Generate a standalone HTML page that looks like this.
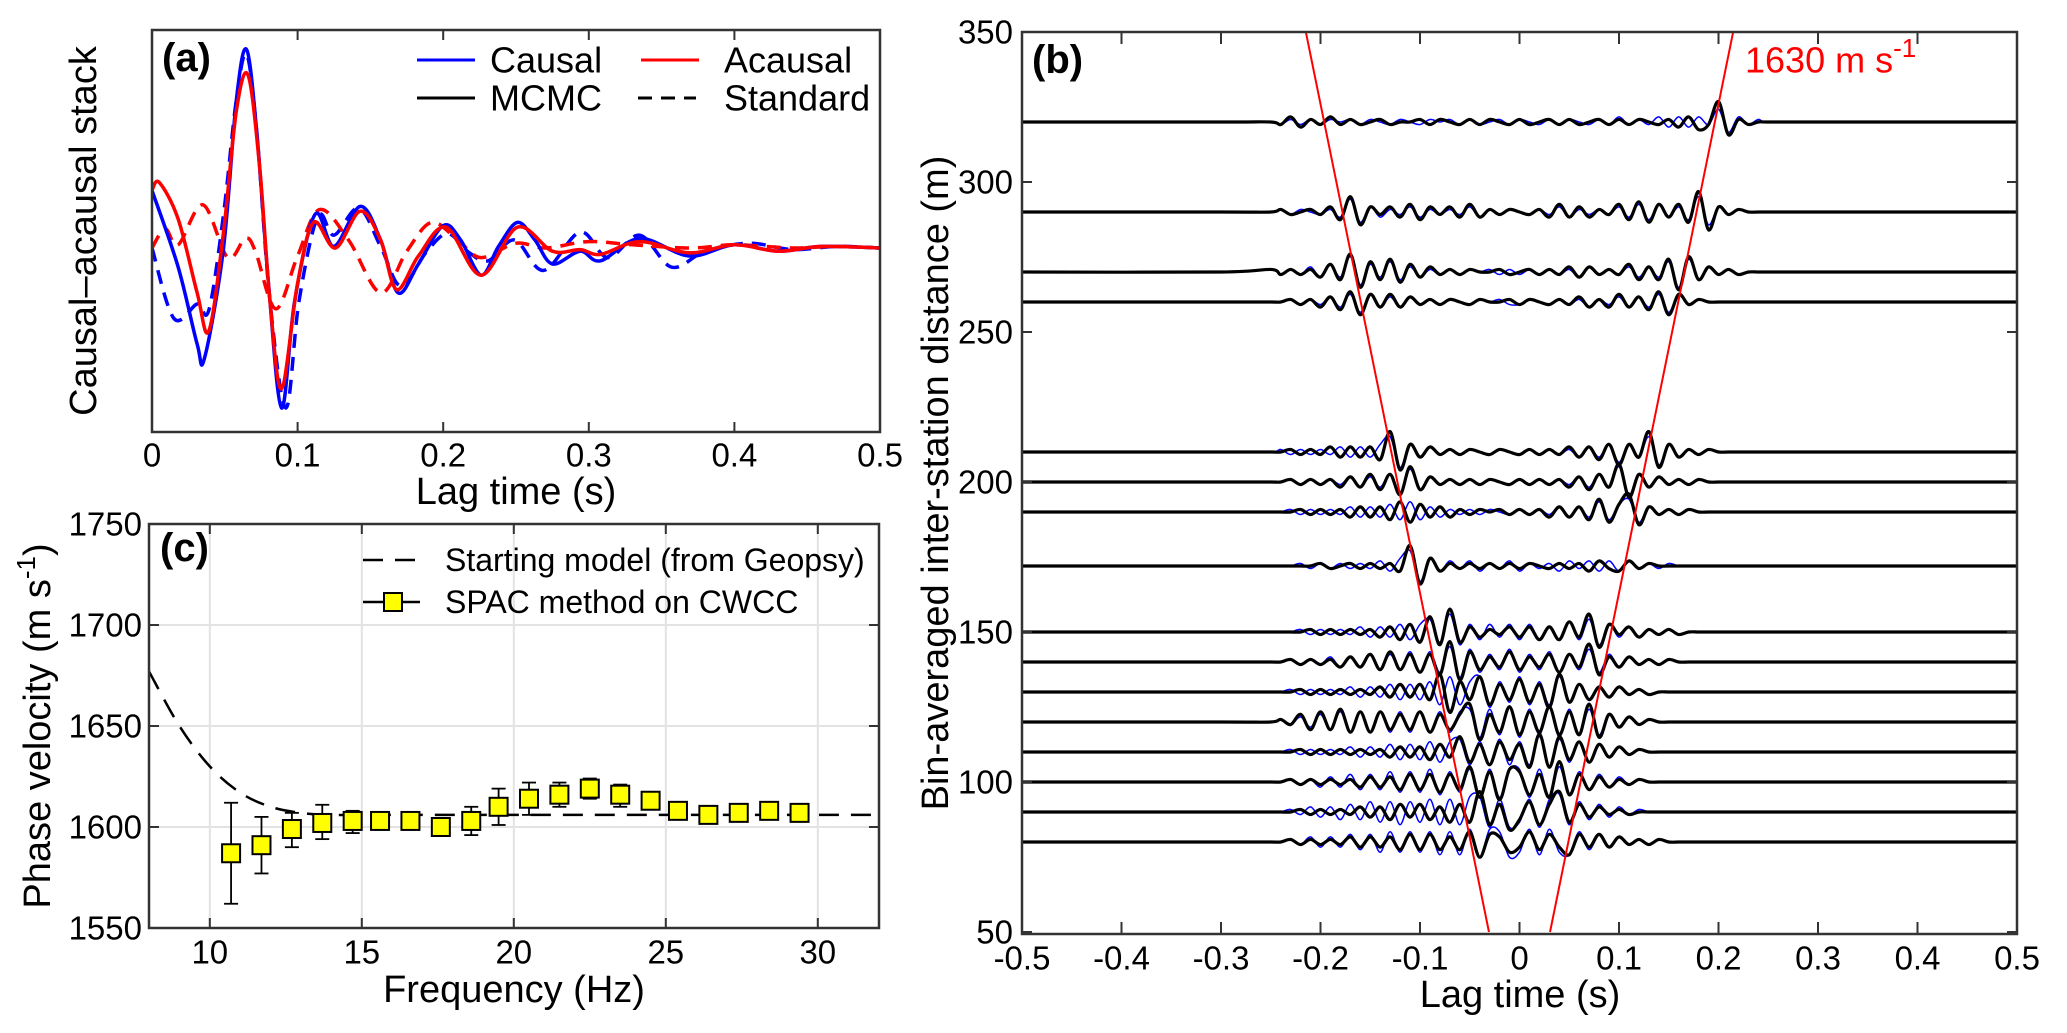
<!DOCTYPE html>
<html><head><meta charset="utf-8">
<style>
html,body{margin:0;padding:0;background:#fff;}
svg{display:block;}
text{font-family:"Liberation Sans",sans-serif;fill:#000;}
</style></head>
<body>
<svg id="fig" xmlns="http://www.w3.org/2000/svg" width="2067" height="1033" viewBox="0 0 2067 1033">
<defs>
<clipPath id="clipA"><rect x="152" y="30" width="728" height="402"/></clipPath>
<clipPath id="clipB"><rect x="1022" y="32" width="995" height="902"/></clipPath>
<clipPath id="clipC"><rect x="149" y="524" width="730" height="404"/></clipPath>
</defs>
<g id="panelA"></g>
<g id="panelB"></g>
<g id="panelC"></g>
</svg>
<script>
// ---------- Panel (a) data ----------
const aCausalT = [0,0.018,0.031,0.036,0.049,0.058,0.065,0.072,0.080,0.089,0.098,0.112,0.125,0.143,0.157,0.169,0.183,0.200,0.212,0.226,0.238,0.251,0.263,0.275,0.294,0.308,0.335,0.369,0.40,0.43,0.46,0.5];
const aCausalV = [0.36,-0.12,-0.60,-0.69,-0.01,0.93,1.24,0.72,-0.22,-1.00,-0.33,0.21,0.01,0.26,0.05,-0.28,-0.10,0.14,0.05,-0.17,0.01,0.16,0.05,-0.10,-0.02,-0.08,0.06,-0.05,0.02,-0.02,0.01,0];
const aAcausalT = [0,0.005,0.018,0.031,0.039,0.049,0.058,0.066,0.074,0.081,0.089,0.100,0.111,0.126,0.143,0.157,0.168,0.183,0.202,0.226,0.251,0.275,0.294,0.308,0.335,0.369,0.40,0.43,0.46,0.5];
const aAcausalV = [0.36,0.41,0.18,-0.28,-0.52,0.09,0.86,1.08,0.50,-0.33,-0.88,-0.22,0.16,0.00,0.23,0.05,-0.26,-0.05,0.13,-0.17,0.13,-0.02,-0.01,-0.04,0.04,-0.03,0.02,-0.02,0.01,0];
const aCausalStdT = [0,0.015,0.031,0.039,0.049,0.058,0.065,0.072,0.081,0.092,0.101,0.114,0.125,0.142,0.157,0.171,0.188,0.203,0.218,0.231,0.249,0.269,0.294,0.313,0.335,0.357,0.38,0.41,0.44,0.47,0.5];
const aCausalStdV = [0.0,-0.44,-0.35,-0.39,0.20,0.93,1.21,0.72,-0.33,-1.00,-0.33,0.20,0.08,0.25,0.01,-0.24,-0.03,0.09,-0.03,-0.08,0.05,-0.14,0.10,-0.06,0.08,-0.12,-0.02,0.03,-0.01,0.01,0];
const aAcausalStdT = [0,0.009,0.018,0.035,0.052,0.064,0.071,0.085,0.100,0.115,0.135,0.157,0.175,0.192,0.21,0.226,0.25,0.27,0.30,0.33,0.37,0.40,0.44,0.47,0.5];
const aAcausalStdV = [0.0,0.12,0.02,0.27,-0.06,0.06,-0.02,-0.38,-0.05,0.24,0.05,-0.28,-0.02,0.16,0.05,-0.06,0.03,0.00,0.04,0.02,0.00,0.02,0.00,0.01,0];
const aXTicks = [0,0.1,0.2,0.3,0.4,0.5];
const aXTickLabels = ["0","0.1","0.2","0.3","0.4","0.5"];

// ---------- Panel (c) data ----------
const cFreq = [10.7,11.7,12.7,13.7,14.7,15.6,16.6,17.6,18.6,19.5,20.5,21.5,22.5,23.5,24.5,25.4,26.4,27.4,28.4,29.4];
const cVel  = [1587,1591,1599,1602,1603,1603,1603,1600,1603,1610,1614,1616,1619,1616,1613,1608,1606,1607,1608,1607];
const cErrLo = [1562,1577,1590,1594,1597,1600,1601,1598,1596,1601,1606,1610,1614,1610,1609,1604,1603,1604,1606,1604];
const cErrHi = [1612,1605,1607,1611,1608,1606,1606,1602,1610,1619,1622,1622,1624,1621,1617,1612,1609,1609,1611,1610];
const cModelF = [8,9,10,11,12,13,14,16,20,25,32];
const cModelV = [1677,1650,1630,1617,1610,1607,1606,1606,1606,1606,1606];
const cXTicks = [10,15,20,25,30];
const cYTicks = [1550,1600,1650,1700,1750];

// ---------- Panel (b) data ----------
const bDist = [320,290,270,260,210,200,190,172,150,140,130,120,110,100,90,80];
const bVel = 1630;
const bXTicks = [-0.5,-0.4,-0.3,-0.2,-0.1,0,0.1,0.2,0.3,0.4,0.5];
const bXTickLabels = ["-0.5","-0.4","-0.3","-0.2","-0.1","0","0.1","0.2","0.3","0.4","0.5"];
const bYTicks = [50,100,150,200,250,300,350];
// traces sampled every 0.01 s from -0.25 s to 0.25 s (amplitude in metres of offset)
const bBlack = [
[0,-1,2,-2,1,-1,2,-1,1,-1,0,1,-1,0,0,1,-1,1,0,-1,1,-1,1,0,-1,1,-1,0,1,-1,1,-1,0,1,-1,1,-1,1,0,-1,1,-2,2,-3,-1,8,-5,1,-1,0,0],
[0,1,-1,0,1,-1,2,-3,6,-5,2,-1,2,-2,3,-3,2,-1,2,-2,3,-2,1,-1,1,0,-1,1,-2,3,-2,2,-2,1,-1,3,-3,4,-4,3,-2,3,-4,8,-7,2,-1,1,0,0,0],
[1,-1,1,-1,1,-2,3,-3,7,-6,4,-3,5,-4,3,-2,2,-1,1,-1,1,0,0,1,-1,0,1,-1,1,-1,2,-2,2,-1,1,-1,3,-3,2,-3,5,-7,6,-3,2,-1,1,-1,0,0,0],
[0,0,1,-1,1,-2,2,-3,4,-5,3,-2,3,-2,2,-1,1,-1,1,0,-1,1,0,0,1,-1,1,0,-1,1,-1,2,-2,1,-2,3,-2,2,-3,4,-5,3,-1,1,0,0,0,0,0,0,0],
[0,0,1,-1,1,-1,2,-2,2,-2,2,-3,8,-7,3,-2,2,-1,1,-1,1,0,-1,1,0,-1,1,-1,1,-1,2,-2,2,-3,3,-5,3,-2,8,-6,3,-2,1,-1,1,0,0,0,0,0,0],
[0,0,1,-1,1,-1,1,-2,2,-2,3,-3,3,-5,6,-3,2,-1,1,-1,1,-1,1,0,-1,1,-1,1,-1,1,-2,2,-3,3,-2,7,-6,3,-2,2,-1,1,-1,1,0,0,0,0,0,0,0],
[0,0,0,1,-1,1,-1,1,-2,2,-2,2,-3,4,-4,3,-2,2,-2,1,-1,1,0,1,-1,1,-1,1,-2,2,-2,2,-3,5,-4,3,7,-5,2,-1,1,-1,1,0,0,0,0,0,0,0,0],
[0,0,0,0,0,1,-1,0,1,-1,1,-1,1,-2,8,-7,3,-2,1,-1,1,-1,1,-1,1,-1,1,0,-1,1,-1,1,-2,2,-1,-2,2,-1,1,0,0,0,0,0,0,0,0,0,0,0,0],
[0,0,0,0,1,-1,1,-1,1,-1,1,-2,2,-3,3,-4,6,-5,9,-4,2,-2,1,-1,2,-2,2,-3,2,-3,4,-2,7,-6,3,-1,2,-2,1,-1,1,-1,0,0,0,0,0,0,0,0,0],
[0,0,1,-1,1,-1,1,-2,2,-2,3,-3,4,-3,3,-4,3,-5,8,-7,4,-3,2,-2,4,-3,2,-2,3,-4,3,-2,7,-5,2,-2,2,-1,1,-1,1,0,0,0,0,0,0,0,0,0,0],
[0,0,0,1,-1,1,-1,1,-1,1,-1,2,-2,3,-2,3,-3,7,-8,4,-3,6,-5,3,-3,5,-4,3,-6,7,-4,3,-3,2,-2,2,-1,1,-1,0,0,0,0,0,0,0,0,0,0,0,0],
[0,1,-1,3,-3,4,-3,5,-4,4,-4,4,-3,3,-3,4,-4,3,-3,3,7,-7,3,-4,6,-5,4,-4,6,-5,4,-5,7,-6,3,-2,2,-1,1,0,0,0,0,0,0,0,0,0,0,0,0],
[0,0,0,1,-1,1,-1,1,-1,1,-1,1,-2,2,-2,2,-3,3,-2,6,-4,3,-5,4,-3,3,-6,7,-6,6,-3,4,-4,3,-2,2,-1,1,0,0,0,0,0,0,0,0,0,0,0,0,0],
[0,0,1,-1,1,-1,1,-1,1,-2,2,-2,2,-3,3,-3,3,-4,3,-3,6,-6,4,-7,5,4,-5,3,-6,8,-5,3,-3,2,-2,1,-1,1,0,0,0,0,0,0,0,0,0,0,0,0,0],
[0,0,0,1,-1,1,-1,1,-1,2,-2,2,-3,3,-2,3,-3,2,-4,3,-4,8,-5,3,-7,-3,4,-5,3,8,-4,3,-2,2,-1,1,-1,0,0,0,0,0,0,0,0,0,0,0,0,0,0],
[0,0,1,-1,1,-1,1,-1,2,-2,2,-2,2,-3,3,-3,3,-3,2,-3,4,-6,3,2,-4,-2,4,-3,3,-2,-5,3,-2,3,-2,2,-1,1,-1,1,0,0,0,0,0,0,0,0,0,0,0]
];
const bBlue = [
[0,-1,1,-1,1,-1,1,0,1,-1,1,0,-1,1,0,-1,1,0,1,-1,1,-1,0,1,-1,1,0,-1,1,-1,1,0,-1,1,-1,2,-1,1,-1,2,-2,2,-2,2,-1,5,-4,2,-1,1,0],
[0,1,-1,1,0,-1,1,-2,5,-4,2,-2,1,-1,2,-2,1,-1,1,-1,2,-2,1,-1,1,0,-1,1,-1,2,-2,1,-1,1,-1,2,-2,3,-3,3,-2,2,-3,6,-5,2,-1,1,0,0,0],
[1,-1,1,-1,2,-2,3,-2,6,-5,3,-2,4,-3,2,-2,1,-1,1,-1,1,0,1,-1,1,-1,1,-1,1,-1,1,-2,2,-1,1,-1,2,-2,2,-2,4,-6,5,-3,2,-1,1,-1,0,0,0],
[0,0,1,-1,1,-1,2,-2,3,-4,3,-2,2,-2,2,-1,1,-1,1,0,-1,1,0,1,-1,-1,1,0,-1,1,-1,1,-2,1,-1,2,-2,2,-2,3,-4,3,-1,1,0,0,0,0,0,0,0],
[0,1,-1,1,-1,1,-1,2,-2,2,-2,3,6,-6,3,-2,2,-1,1,-1,1,0,-1,1,0,-1,1,-1,1,-1,1,-2,2,-2,3,-4,3,-2,6,-5,3,-2,1,-1,1,0,0,0,0,0,0],
[0,0,1,-1,1,-1,1,-1,2,-2,2,-2,3,-4,5,-3,2,-1,1,-1,1,-1,1,0,-1,1,-1,1,-1,1,-1,2,-2,3,-2,6,-5,3,-2,2,-1,1,-1,1,0,0,0,0,0,0,0],
[0,0,1,-1,1,-1,1,-1,2,-2,2,-2,3,-3,4,-3,2,-2,1,-1,1,-1,1,0,-1,1,-1,1,-1,2,-2,2,-2,4,-3,3,5,-4,2,-1,1,-1,1,0,0,0,0,0,0,0,0],
[0,0,0,1,-1,1,-1,1,-1,1,-1,2,-2,3,6,-6,3,-2,2,-1,2,-2,1,-1,2,-2,1,-1,1,-2,2,-1,2,-2,2,-2,2,-1,1,-1,1,0,0,0,0,0,0,0,0,0,0],
[0,0,0,1,-1,1,-1,1,-1,2,-2,2,-2,3,-3,3,5,-4,7,-5,3,-3,3,-2,3,-3,3,-3,2,-3,4,-3,5,-5,3,-2,2,-2,1,-1,1,-1,0,0,0,0,0,0,0,0,0],
[0,0,1,-1,1,-1,2,-2,2,-2,3,-3,3,-3,4,-4,4,-4,6,-6,5,-4,3,-3,5,-4,3,-3,4,-4,3,-3,5,-4,3,-2,2,-1,1,-1,1,0,0,0,0,0,0,0,0,0,0],
[0,0,1,-1,1,-1,1,-1,2,-2,2,-2,3,-3,3,-3,4,-5,6,-5,4,6,-6,4,-4,6,-5,4,-5,6,-4,3,-3,2,-2,2,-1,1,-1,0,0,0,0,0,0,0,0,0,0,0,0],
[0,1,-1,2,-2,3,-3,4,-4,4,-4,4,-4,4,-4,4,-4,4,-4,4,5,-6,5,-5,6,-6,5,-5,6,-6,5,-5,5,-5,3,-2,2,-1,1,0,0,0,0,0,0,0,0,0,0,0,0],
[0,0,1,-1,1,-1,1,-1,2,-2,2,-2,3,-3,3,-3,4,-4,4,5,-5,4,-5,5,-5,4,-5,6,-6,5,-4,4,-4,3,-2,2,-1,1,0,0,0,0,0,0,0,0,0,0,0,0,0],
[0,0,1,-1,1,-2,2,-2,3,-3,3,-3,4,-4,4,-4,5,-5,4,-4,5,-6,5,-6,5,5,-6,5,-6,6,-5,4,-3,3,-2,2,-1,1,0,0,0,0,0,0,0,0,0,0,0,0,0],
[0,0,1,-1,2,-2,2,-3,3,-3,4,-4,4,-5,4,-4,5,-5,5,-5,6,6,-6,5,-6,-4,5,-6,5,7,-5,4,-3,3,-2,2,-1,1,0,0,0,0,0,0,0,0,0,0,0,0,0],
[0,0,1,-1,2,-2,2,-2,3,-3,3,-4,4,-4,4,-4,4,-5,4,-5,5,-6,5,4,-6,-4,5,-5,5,-4,-5,4,-3,3,-2,2,-1,1,-1,1,0,0,0,0,0,0,0,0,0,0,0]
];

// ---------- helpers ----------
const NS = "http://www.w3.org/2000/svg";
function mk(parent, tag, attrs){
  const e = document.createElementNS(NS, tag);
  for (const k in attrs) e.setAttribute(k, attrs[k]);
  parent.appendChild(e);
  return e;
}
function txt(parent, x, y, s, size, anchor, extra){
  const t = mk(parent, "text", Object.assign({x:x, y:y, "font-size":size, "text-anchor":anchor||"middle", "dominant-baseline":"central"}, extra||{}));
  t.textContent = s;
  return t;
}
function smoothPath(pts){
  if (pts.length < 2) return "";
  let d = "M" + pts[0][0].toFixed(2) + "," + pts[0][1].toFixed(2);
  for (let i = 0; i < pts.length - 1; i++){
    const p0 = pts[i-1] || pts[i], p1 = pts[i], p2 = pts[i+1], p3 = pts[i+2] || p2;
    const c1x = p1[0] + (p2[0]-p0[0])/6, c1y = p1[1] + (p2[1]-p0[1])/6;
    const c2x = p2[0] - (p3[0]-p1[0])/6, c2y = p2[1] - (p3[1]-p1[1])/6;
    d += "C" + c1x.toFixed(2)+","+c1y.toFixed(2)+" "+c2x.toFixed(2)+","+c2y.toFixed(2)+" "+p2[0].toFixed(2)+","+p2[1].toFixed(2);
  }
  return d;
}

// ---------- Panel (a) ----------
const A = document.getElementById("panelA");
const xA = t => 152 + t*1456;
const yA = v => 248 - v*160;
const aSeries = [
  {t:aCausalStdT, v:aCausalStdV, c:"#0000ff", dash:"14,9", name:"causal-standard-line"},
  {t:aAcausalStdT, v:aAcausalStdV, c:"#ff0000", dash:"14,9", name:"acausal-standard-line"},
  {t:aCausalT, v:aCausalV, c:"#0000ff", dash:null, name:"causal-mcmc-line"},
  {t:aAcausalT, v:aAcausalV, c:"#ff0000", dash:null, name:"acausal-mcmc-line"}
];
const aClip = mk(A, "g", {"clip-path":"url(#clipA)"});


aSeries.forEach(s => {
  const pts = s.t.map((t,i)=>[xA(t), yA(s.v[i])]);
  const p = mk(aClip, "path", {d:smoothPath(pts), fill:"none", stroke:s.c, "stroke-width":3.5});
  if (s.dash) p.setAttribute("stroke-dasharray", s.dash);
  
  
});
const aFrame = mk(A, "rect", {x:152, y:30, width:728, height:402, fill:"none", stroke:"#333", "stroke-width":2.5});


aXTicks.forEach((t,i) => {
  const x = xA(t);
  mk(A, "line", {x1:x, y1:432, x2:x, y2:422, stroke:"#333", "stroke-width":2});
  mk(A, "line", {x1:x, y1:30, x2:x, y2:40, stroke:"#333", "stroke-width":2});
  const l = txt(A, x, 455, aXTickLabels[i], 33);
  
  
});
const aXT = txt(A, 516, 492, "Lag time (s)", 38);


const aYT = txt(A, 84, 231, "Causal\u2013acausal stack", 38, "middle", {transform:"rotate(-90 84 231)"});


const aLab = txt(A, 162, 58, "(a)", 40, "start", {"font-weight":"bold"});


// legend
const aLeg = mk(A, "g", {});


[
 {x1:417,y:60,c:"#0000ff",dash:null,label:"Causal",lx:490,n:"legend-causal"},
 {x1:417,y:98,c:"#000",dash:null,label:"MCMC",lx:490,n:"legend-mcmc"},
 {x1:641,y:60,c:"#ff0000",dash:null,label:"Acausal",lx:724,n:"legend-acausal"},
 {x1:638,y:98,c:"#000",dash:"14,9",label:"Standard",lx:724,n:"legend-standard"}
].forEach(e=>{
  const g = mk(aLeg, "g", {});
  
  
  const ln = mk(g, "line", {x1:e.x1, y1:e.y, x2:e.x1+58, y2:e.y, stroke:e.c, "stroke-width":3});
  if (e.dash) ln.setAttribute("stroke-dasharray", e.dash);
  txt(g, e.lx, e.y, e.label, 36, "start");
});

// ---------- Panel (c) ----------
const C = document.getElementById("panelC");
const xC = f => 149 + (f-8)*30.4;
const yC = v => 524 + (1750-v)*2.02;
cXTicks.forEach(f => {
  const g = mk(C, "line", {x1:xC(f), y1:524, x2:xC(f), y2:928, stroke:"#e3e3e3", "stroke-width":2});
  
  
});
cYTicks.forEach(v => {
  if (v===1550 || v===1750) return;
  const g = mk(C, "line", {x1:149, y1:yC(v), x2:879, y2:yC(v), stroke:"#e3e3e3", "stroke-width":2});
  
  
});
const cClip = mk(C, "g", {"clip-path":"url(#clipC)"});


const model = mk(cClip, "path", {d:smoothPath(cModelF.map((f,i)=>[xC(f), yC(cModelV[i])])), fill:"none", stroke:"#000", "stroke-width":2.5, "stroke-dasharray":"20,12"});


cFreq.forEach((f,i) => {
  const g = mk(cClip, "g", {});
  
  
  const x = xC(f);
  mk(g, "line", {x1:x, y1:yC(cErrLo[i]), x2:x, y2:yC(cErrHi[i]), stroke:"#000", "stroke-width":1.8});
  mk(g, "line", {x1:x-7, y1:yC(cErrLo[i]), x2:x+7, y2:yC(cErrLo[i]), stroke:"#000", "stroke-width":1.8});
  mk(g, "line", {x1:x-7, y1:yC(cErrHi[i]), x2:x+7, y2:yC(cErrHi[i]), stroke:"#000", "stroke-width":1.8});
  mk(g, "rect", {x:x-9, y:yC(cVel[i])-9, width:18, height:18, fill:"#ffff00", stroke:"#000", "stroke-width":2});
});
const cFrame = mk(C, "rect", {x:149, y:524, width:730, height:404, fill:"none", stroke:"#333", "stroke-width":2.5});


cXTicks.forEach(f => {
  const x = xC(f);
  mk(C, "line", {x1:x, y1:928, x2:x, y2:918, stroke:"#333", "stroke-width":2});
  mk(C, "line", {x1:x, y1:524, x2:x, y2:534, stroke:"#333", "stroke-width":2});
  const l = txt(C, x, 952, String(f), 33);
  
  
});
cYTicks.forEach(v => {
  const y = yC(v);
  mk(C, "line", {x1:149, y1:y, x2:159, y2:y, stroke:"#333", "stroke-width":2});
  mk(C, "line", {x1:879, y1:y, x2:869, y2:y, stroke:"#333", "stroke-width":2});
  const l = txt(C, 142, y, String(v), 33, "end");
  
  
});
const cXT = txt(C, 514, 990, "Frequency (Hz)", 38);


const cYT = mk(C, "text", {x:38, y:726, "font-size":38, "text-anchor":"middle", "dominant-baseline":"central", transform:"rotate(-90 38 726)"});
cYT.innerHTML = 'Phase velocity (m s<tspan font-size="26" dy="-12">-1</tspan><tspan dy="12">)</tspan>';


const cLab = txt(C, 160, 548, "(c)", 40, "start", {"font-weight":"bold"});


const cLeg1 = mk(C, "g", {});


mk(cLeg1, "line", {x1:363, y1:560, x2:420, y2:560, stroke:"#000", "stroke-width":2.5, "stroke-dasharray":"20,12"});
txt(cLeg1, 445, 560, "Starting model (from Geopsy)", 32, "start");
const cLeg2 = mk(C, "g", {});


mk(cLeg2, "line", {x1:363, y1:602, x2:420, y2:602, stroke:"#000", "stroke-width":2.5});
mk(cLeg2, "rect", {x:384, y:593, width:18, height:18, fill:"#ffff00", stroke:"#000", "stroke-width":2});
txt(cLeg2, 445, 602, "SPAC method on CWCC", 32, "start");

// ---------- Panel (b) ----------
const B = document.getElementById("panelB");
const xB = t => 1022 + (t+0.5)*995;
const yB = d => 32 + (350-d)*3;
const bClip = mk(B, "g", {"clip-path":"url(#clipB)"});


function tracePts(arr, d){
  const pts = [[xB(-0.5), yB(d)], [xB(-0.3), yB(d)]];
  arr.forEach((v,i)=>{ pts.push([xB(-0.25 + 0.01*i), yB(d + v*0.85)]); });
  pts.push([xB(0.3), yB(d)]); pts.push([xB(0.5), yB(d)]);
  return pts;
}
bDist.forEach((d,k) => {
  const p = mk(bClip, "path", {d:smoothPath(tracePts(bBlue[k], d)), fill:"none", stroke:"#0000ff", "stroke-width":1.5});
  
  
});
bDist.forEach((d,k) => {
  const p = mk(bClip, "path", {d:smoothPath(tracePts(bBlack[k], d)), fill:"none", stroke:"#000", "stroke-width":3.2});
  
  
});
[-1,1].forEach(sgn => {
  const l = mk(bClip, "line", {x1:xB(sgn*350/bVel), y1:yB(350), x2:xB(sgn*50/bVel), y2:yB(50), stroke:"#ff0000", "stroke-width":2});
  
  
});
const bFrame = mk(B, "rect", {x:1022, y:32, width:995, height:902, fill:"none", stroke:"#333", "stroke-width":2.5});


bXTicks.forEach((t,i) => {
  const x = xB(t);
  mk(B, "line", {x1:x, y1:934, x2:x, y2:922, stroke:"#333", "stroke-width":2});
  mk(B, "line", {x1:x, y1:32, x2:x, y2:44, stroke:"#333", "stroke-width":2});
  const l = txt(B, x, 958, bXTickLabels[i], 33);
  
  
});
bYTicks.forEach(v => {
  const y = yB(v);
  mk(B, "line", {x1:1022, y1:y, x2:1032, y2:y, stroke:"#333", "stroke-width":2});
  mk(B, "line", {x1:2017, y1:y, x2:2007, y2:y, stroke:"#333", "stroke-width":2});
  const l = txt(B, 1013, y, String(v), 33, "end");
  
  
});
const bXT = txt(B, 1520, 995, "Lag time (s)", 38);


const bYT = txt(B, 936, 483, "Bin-averaged inter-station distance (m)", 38, "middle", {transform:"rotate(-90 936 483)"});


const bLab = txt(B, 1032, 60, "(b)", 40, "start", {"font-weight":"bold"});


const vel = mk(B, "text", {x:1745, y:60, "font-size":36, "text-anchor":"start", "dominant-baseline":"central", style:"fill:#ff0000"});
vel.innerHTML = bVel + ' m s<tspan font-size="26" dy="-12">-1</tspan>';


</script>
</body></html>
